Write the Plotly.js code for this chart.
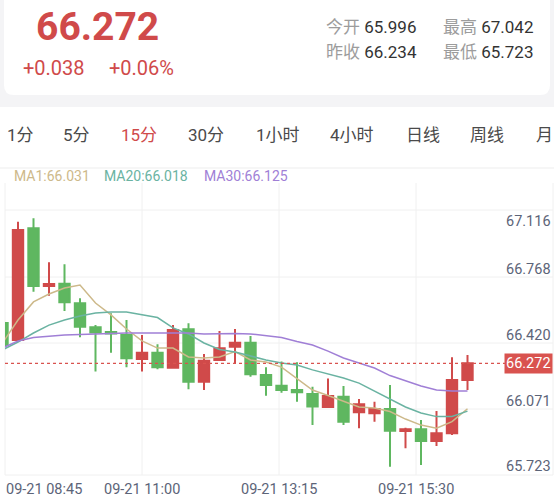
<!DOCTYPE html>
<html><head><meta charset="utf-8">
<script src="https://cdn.plot.ly/plotly-3.0.1.min.js"></script>
<style>html,body{margin:0;padding:0;background:#fff;}#chart{width:554px;height:501px;}</style>
</head><body><div id="chart"></div>
<script>
// ---- data ----
const times = ['08:45','09:00','09:15','09:30','09:45','10:00','10:15','10:30','10:45','11:00','11:15','11:30','11:45','12:00','12:15','12:30','12:45','13:00','13:15','13:30','13:45','14:00','14:15','14:30','14:45','15:00','15:15','15:30','15:45','16:00','16:15'];
const openV  = [66.486,66.396,66.989,66.683,66.695,66.591,66.463,66.438,66.422,66.295,66.328,66.249,66.453,66.174,66.290,66.360,66.381,66.210,66.153,66.130,66.109,66.040,66.095,66.012,66.007,66.029,65.913,65.922,65.860,65.900,66.183];
const highV  = [66.491,67.024,67.042,66.808,66.798,66.617,66.475,66.538,66.502,66.422,66.373,66.475,66.485,66.321,66.444,66.454,66.417,66.251,66.281,66.277,66.148,66.192,66.152,66.083,66.068,66.157,65.930,65.971,66.019,66.304,66.316];
const lowV   = [66.364,66.385,66.652,66.631,66.550,66.410,66.228,66.328,66.251,66.228,66.240,66.246,66.134,66.130,66.287,66.272,66.201,66.100,66.116,66.068,65.944,66.037,65.944,65.927,65.962,65.723,65.821,65.732,65.833,65.891,66.130];
const closeV = [66.369,66.980,66.683,66.693,66.596,66.466,66.435,66.430,66.299,66.328,66.251,66.449,66.174,66.286,66.352,66.381,66.214,66.157,66.130,66.118,66.042,66.098,65.962,66.054,66.029,65.914,65.922,65.860,65.900,66.183,66.272];
const ma1  = [66.380,66.502,66.598,66.640,66.672,66.688,66.592,66.529,66.454,66.391,66.353,66.353,66.306,66.300,66.306,66.334,66.290,66.279,66.252,66.189,66.130,66.101,66.072,66.040,66.035,66.016,65.976,65.944,65.927,65.962,66.031];
const ma20 = [66.343,66.385,66.433,66.475,66.502,66.523,66.539,66.545,66.545,66.529,66.515,66.460,66.428,66.380,66.345,66.332,66.311,66.290,66.274,66.263,66.237,66.215,66.194,66.167,66.125,66.083,66.040,66.008,65.989,65.990,66.018];
const ma30 = [66.353,66.391,66.409,66.417,66.422,66.425,66.428,66.433,66.433,66.433,66.433,66.436,66.433,66.428,66.430,66.430,66.428,66.417,66.409,66.388,66.369,66.337,66.300,66.274,66.247,66.207,66.178,66.152,66.130,66.125,66.125];
const yTickLabels = ['67.116','66.768','66.420','66.071','65.723'];
const xTickLabels = ['09-21 08:45','09-21 11:00','09-21 13:15','09-21 15:30'];
const lastPrice = 66.272;
const header = {price:'66.272', change:'+0.038', pct:'+0.06%', open:'65.996', high:'67.042', prev:'66.234', low:'65.723'};
const tabs = ['1分','5分','15分','30分','1小时','4小时','日线','周线','月'];
const maLegend = [['MA1', '66.031'], ['MA20', '66.018'], ['MA30', '66.125']];

// ---- layout helpers ----
const W = 554, H = 501, PL = 5, PR = 553, PT = 183, PB = 475;
const px = v => (v - PL) / (PR - PL);
const py = v => (PB - v) / (PB - PT);
const FONT = 'Roboto, "Noto Sans CJK SC", sans-serif';
const RED = '#d04a4a', GREEN = '#5fb760';
const TAN = '#cdb98a', TEAL = '#6ab3a2', PURPLE = '#a07fd6';
const AXC = '#5c6478';

const ann = [];
function A(text, x, y, o) {
  o = o || {};
  ann.push(Object.assign({text: text, xref: 'paper', yref: 'paper', x: px(x), y: py(y),
    xanchor: 'left', yanchor: 'middle', showarrow: false,
    font: {family: FONT, size: o.size || 14, color: o.color || '#333', weight: o.weight || 'normal'}}, o.extra || {}));
}
// header
A(header.price, 34, 27, {size: 39, color: RED, weight: 'bold'});
A(header.change, 21, 68, {size: 20, color: RED});
A(header.pct, 107, 68, {size: 20, color: RED});
const gl = s => '<span style="color:#9c9c9c">' + s + '</span> ';
A(gl('今开') + header.open, 324, 27, {size: 17, color: '#333'});
A(gl('最高') + header.high, 441, 27, {size: 17, color: '#333'});
A(gl('昨收') + header.prev, 324, 52, {size: 17, color: '#333'});
A(gl('最低') + header.low, 441, 52, {size: 17, color: '#333'});
// tabs
const tabX = [20, 76, 139, 205.5, 278, 352, 423, 487, 543];
tabs.forEach((t, i) => {
  A(t, tabX[i], 135, {size: 17, color: i === 2 ? RED : '#4a4a4a', extra: {xanchor: i === 8 ? 'left' : 'center', x: px(i === 8 ? 533.5 : tabX[i])}});
});
// MA legend
const legX = [12, 102, 202], legC = [TAN, TEAL, PURPLE];
maLegend.forEach((m, i) => A(m[0] + ':' + m[1], legX[i], 176, {size: 14, color: legC[i]}));
// x labels at vertical grid lines
const vGrid = [0, 0.25, 0.5, 0.75, 1];
xTickLabels.forEach((t, i) => {
  ann.push({text: t, xref: 'paper', yref: 'paper', x: i === 0 ? px(4) : vGrid[i], y: py(489),
    xanchor: i === 0 ? 'left' : 'center', yanchor: 'middle', showarrow: false,
    font: {family: FONT, size: 14.5, color: AXC}});
});
// y labels
const hGridPx = [210, 277, 343, 409, 475];
yTickLabels.forEach((t, i) => {
  if (i === 0) {
    ann.push({text: t, xref: 'paper', yref: 'paper', x: 1, y: py(hGridPx[0] + 1), xanchor: 'right', yanchor: 'top',
      showarrow: false, font: {family: FONT, size: 14.5, color: AXC}});
  } else {
    ann.push({text: t, xref: 'paper', yref: 'y', x: 1, y: parseFloat(t), xanchor: 'right', yanchor: 'middle',
      showarrow: false, font: {family: FONT, size: 14.5, color: AXC}});
  }
});
// last price tag
ann.push({text: String(lastPrice.toFixed(3)), xref: 'paper', yref: 'y', x: 1, y: lastPrice, xanchor: 'right', yanchor: 'middle',
  showarrow: false, bgcolor: '#d9534f', borderpad: 1, font: {family: FONT, size: 14.5, color: '#fff'}});

// shapes
const shapes = [];
shapes.push({type: 'rect', xref: 'paper', yref: 'paper', x0: px(-5), x1: px(W + 5), y0: py(107), y1: py(-5), fillcolor: '#f4f4f6', line: {width: 0}, layer: 'below'});
const cx0 = px(4), cx1 = px(550), r = 10;
const cardPath = 'M ' + px(4) + ',' + py(-5) + ' L ' + px(550) + ',' + py(-5) + ' L ' + px(550) + ',' + py(95 - r) +
  ' Q ' + px(550) + ',' + py(95) + ' ' + px(550 - r) + ',' + py(95) + ' L ' + px(4 + r) + ',' + py(95) +
  ' Q ' + px(4) + ',' + py(95) + ' ' + px(4) + ',' + py(95 - r) + ' Z';
shapes.push({type: 'path', xref: 'paper', yref: 'paper', path: cardPath, fillcolor: '#ffffff', line: {width: 0}, layer: 'below'});
shapes.push({type: 'line', xref: 'paper', yref: 'paper', x0: px(0), x1: px(W), y0: py(168), y1: py(168), line: {color: '#ededed', width: 1}, layer: 'below'});
hGridPx.forEach(g => shapes.push({type: 'line', xref: 'paper', yref: 'paper', x0: 0, x1: 1, y0: py(g), y1: py(g), line: {color: '#f0f0f0', width: 1}, layer: 'below'}));
vGrid.forEach(g => shapes.push({type: 'line', xref: 'paper', yref: 'paper', x0: g, x1: g, y0: 0, y1: 1, line: {color: '#f0f0f0', width: 1}, layer: 'below'}));
shapes.push({type: 'line', xref: 'paper', yref: 'y', x0: 0, x1: px(507), y0: lastPrice, y1: lastPrice, line: {color: '#d9534f', width: 1.3, dash: 'dot'}});

const traces = [
  {type: 'candlestick', x: times, open: openV, high: highV, low: lowV, close: closeV,
   increasing: {line: {color: RED, width: 2}, fillcolor: RED},
   decreasing: {line: {color: GREEN, width: 2}, fillcolor: GREEN},
   whiskerwidth: 0, hoverinfo: 'skip', showlegend: false},
  {type: 'scatter', mode: 'lines', x: times, y: ma1, line: {color: TAN, width: 1.5}, hoverinfo: 'skip', showlegend: false},
  {type: 'scatter', mode: 'lines', x: times, y: ma20, line: {color: TEAL, width: 1.5}, hoverinfo: 'skip', showlegend: false},
  {type: 'scatter', mode: 'lines', x: times, y: ma30, line: {color: PURPLE, width: 1.5}, hoverinfo: 'skip', showlegend: false}
];

const yBottom = 65.723 - 8.3 * 0.00531, yTop = 65.723 + 283.7 * 0.00531;
const layout = {
  width: W, height: H,
  margin: {l: PL, r: W - PR, t: PT, b: H - PB, pad: 0},
  paper_bgcolor: '#ffffff', plot_bgcolor: 'rgba(0,0,0,0)',
  showlegend: false,
  boxgap: 0.33, boxgroupgap: 0,
  xaxis: {type: 'category', range: [0.161, 35.516], showgrid: false, showticklabels: false, zeroline: false,
          showline: false, ticks: '', rangeslider: {visible: false}, fixedrange: true},
  yaxis: {range: [yBottom, yTop], showgrid: false, showticklabels: false, zeroline: false, showline: false, ticks: '', fixedrange: true},
  shapes: shapes,
  annotations: ann,
  font: {family: FONT}
};
Plotly.newPlot('chart', traces, layout, {staticPlot: true, displayModeBar: false});
</script></body></html>
